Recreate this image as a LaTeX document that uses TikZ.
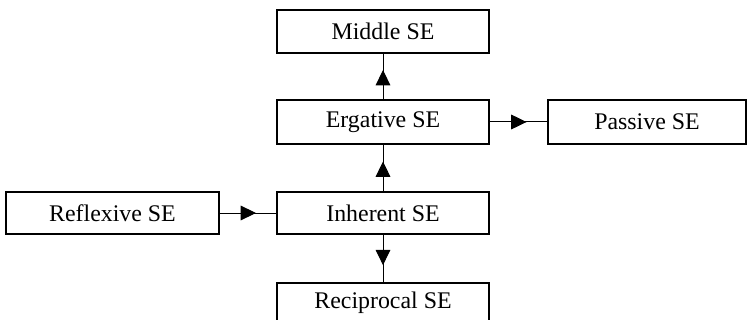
\documentclass[tikz,border=0pt]{standalone}
\usepackage{fontspec}
\setmainfont{Liberation Serif}
\usetikzlibrary{arrows.meta,decorations.markings}
\begin{document}
\begin{tikzpicture}[x=0.75pt,y=-0.75pt,
    sebox/.style={draw, line width=1.1pt, inner sep=0pt, minimum width=159pt,
      minimum height=32pt, font=\fontsize{17.9}{20}\selectfont},
    midarrow/.style={line width=0.75pt, postaction={decorate},
      decoration={markings, mark=at position 0.64 with
        {\arrow{Triangle[length=11.5pt,width=11pt]}}}}]
  \useasboundingbox (0,0) rectangle (748,320);

  % Boites
  \node[sebox] (middle) at (383,31.5) {Middle SE};
  \node[sebox, minimum height=33pt] (ergative) at (383,122) {Ergative SE};
  \node[sebox, minimum width=148.5pt, minimum height=33pt] (passive) at (647,122) {Passive SE};
  \node[sebox, minimum width=160pt, minimum height=31.5pt] (reflexive) at (112.5,213) {Reflexive SE};
  \node[sebox, minimum height=31.5pt] (inherent) at (383,213) {Inherent SE};
  \node[sebox, minimum height=30pt] (reciprocal) at (383,303) {Reciprocal SE};

  % Fleches
  \draw[midarrow] (ergative) -- (middle);
  \draw[midarrow] (inherent) -- (ergative);
  \draw[midarrow] (ergative) -- (passive);
  \draw[midarrow] (reflexive) -- (inherent);
  \draw[midarrow] (inherent) -- (reciprocal);
\end{tikzpicture}
\end{document}
